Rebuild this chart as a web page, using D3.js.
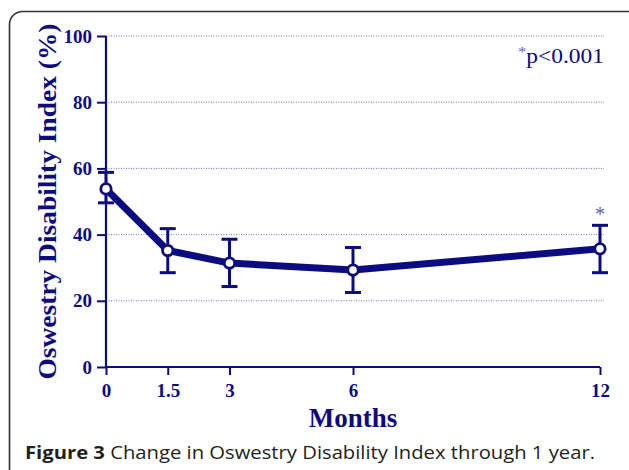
<!DOCTYPE html>
<html>
<head>
<meta charset="utf-8">
<script src="https://cdn.jsdelivr.net/npm/d3@7.9.0/dist/d3.min.js"></script>
<style>
  body { margin: 0; background: #fff; }
  svg { display: block; }
</style>
</head>
<body>
<svg id="chart" width="629" height="470"></svg>
<script>
// ODI values
const months = [0, 1.5, 3, 6, 12];
const meanODI = [53.8, 35.2, 31.4, 29.3, 35.7];
const upperODI = [58.8, 41.8, 38.6, 36.1, 42.8];
const lowerODI = [49.6, 28.5, 24.3, 22.5, 28.5];
const xTickLabels = ['0', '1.5', '3', '6', '12'];
const yTicks = [0, 20, 40, 60, 80, 100];
const starred = [12];

const navy = '#0c0c80';
const serif = '"Liberation Serif", "DejaVu Serif", serif';
const svg = d3.select('#chart');

// frame around the figure
svg.append('rect')
  .attr('x', 9.5).attr('y', 11.5)
  .attr('width', 640).attr('height', 500)
  .attr('rx', 13)
  .attr('fill', 'none')
  .attr('stroke', '#333')
  .attr('stroke-width', 1.6);

const x = d3.scaleLinear().domain([0, 12]).range([106, 600]);
const y = d3.scaleLinear().domain([0, 100]).range([367, 36]);

// dotted gridlines
svg.append('g')
  .selectAll('line')
  .data(yTicks.filter(d => d > 0))
  .join('line')
  .attr('x1', x(0)).attr('x2', 604)
  .attr('y1', d => y(d)).attr('y2', d => y(d))
  .attr('stroke', '#7070c8')
  .attr('stroke-width', 1)
  .attr('stroke-dasharray', '1,1.5');

// axes
const yAxis = d3.axisLeft(y).tickValues(yTicks).tickSize(9).tickPadding(5);
const xAxis = d3.axisBottom(x).tickValues(months)
  .tickFormat((d, i) => xTickLabels[i]).tickSize(8).tickPadding(9);

const gy = svg.append('g').attr('transform', `translate(${x(0)},0)`).call(yAxis);
const gx = svg.append('g').attr('transform', `translate(0,${y(0)})`).call(xAxis);

[gy, gx].forEach(g => {
  g.attr('font-size', null).attr('font-family', null);
  g.select('.domain').attr('stroke', navy).attr('stroke-width', 2.2);
  g.selectAll('.tick line').attr('stroke', navy).attr('stroke-width', 2);
  g.selectAll('.tick text')
    .attr('fill', navy)
    .style('font-family', serif)
    .style('font-weight', 'bold')
    .style('font-size', '19px');
});
gy.select('.domain').attr('d', `M0,${y(0)}V${y(100)}`);
gx.select('.domain').attr('d', `M${x(0)},0H${x(12)}`);

// error bars
const rows = months.map((m, i) => ({ m, mean: meanODI[i], hi: upperODI[i], lo: lowerODI[i] }));
const eb = svg.append('g').attr('stroke', navy).attr('stroke-width', 3).attr('fill', 'none');
rows.forEach(d => {
  eb.append('line').attr('x1', x(d.m)).attr('x2', x(d.m)).attr('y1', y(d.hi)).attr('y2', y(d.lo));
  eb.append('line').attr('x1', x(d.m) - 8).attr('x2', x(d.m) + 8).attr('y1', y(d.hi)).attr('y2', y(d.hi));
  eb.append('line').attr('x1', x(d.m) - 8).attr('x2', x(d.m) + 8).attr('y1', y(d.lo)).attr('y2', y(d.lo));
});

// mean line
const line = d3.line().x(d => x(d.m)).y(d => y(d.mean));
svg.append('path')
  .datum(rows)
  .attr('d', line)
  .attr('fill', 'none')
  .attr('stroke', navy)
  .attr('stroke-width', 7)
  .attr('stroke-linejoin', 'round');

svg.append('g')
  .selectAll('circle')
  .data(rows)
  .join('circle')
  .attr('cx', d => x(d.m))
  .attr('cy', d => y(d.mean))
  .attr('r', 5.2)
  .attr('fill', '#fffff0')
  .attr('stroke', navy)
  .attr('stroke-width', 2.8);

// significance star
svg.append('g')
  .selectAll('text')
  .data(rows.filter(d => starred.includes(d.m)))
  .join('text')
  .attr('x', d => x(d.m))
  .attr('y', d => y(d.hi) - 4)
  .attr('text-anchor', 'middle')
  .attr('fill', '#6060b8')
  .attr('font-family', serif)
  .attr('font-size', 20)
  .text('*');

const note = svg.append('text')
  .attr('x', 604).attr('y', 63)
  .attr('text-anchor', 'end')
  .attr('fill', navy)
  .attr('font-family', serif)
  .attr('font-size', 21)
  .attr('textLength', 86)
  .attr('lengthAdjust', 'spacingAndGlyphs');
note.append('tspan').attr('font-size', 15).attr('dy', -6).attr('fill', '#6060b8').text('*');
note.append('tspan').attr('dy', 6).text('p<0.001');

// axis titles
svg.append('text')
  .attr('transform', `translate(56,${y(50)}) rotate(-90)`)
  .attr('text-anchor', 'middle')
  .attr('fill', navy)
  .attr('font-family', serif)
  .attr('font-weight', 'bold')
  .attr('font-size', 26)
  .attr('textLength', 356)
  .attr('lengthAdjust', 'spacingAndGlyphs')
  .text('Oswestry Disability Index (%)');

svg.append('text')
  .attr('x', x(6)).attr('y', 427)
  .attr('text-anchor', 'middle')
  .attr('fill', navy)
  .attr('font-family', serif)
  .attr('font-weight', 'bold')
  .attr('font-size', 27)
  .text('Months');

// caption
const cap = svg.append('text')
  .attr('x', 25).attr('y', 459)
  .attr('fill', '#231f20')
  .attr('font-family', '"Open Sans", "Noto Sans", sans-serif')
  .attr('font-size', 18)
  .attr('textLength', 570)
  .attr('lengthAdjust', 'spacingAndGlyphs');
cap.append('tspan').attr('font-weight', 'bold').text('Figure 3');
cap.append('tspan').text(' Change in Oswestry Disability Index through 1 year.');
</script>
</body>
</html>
